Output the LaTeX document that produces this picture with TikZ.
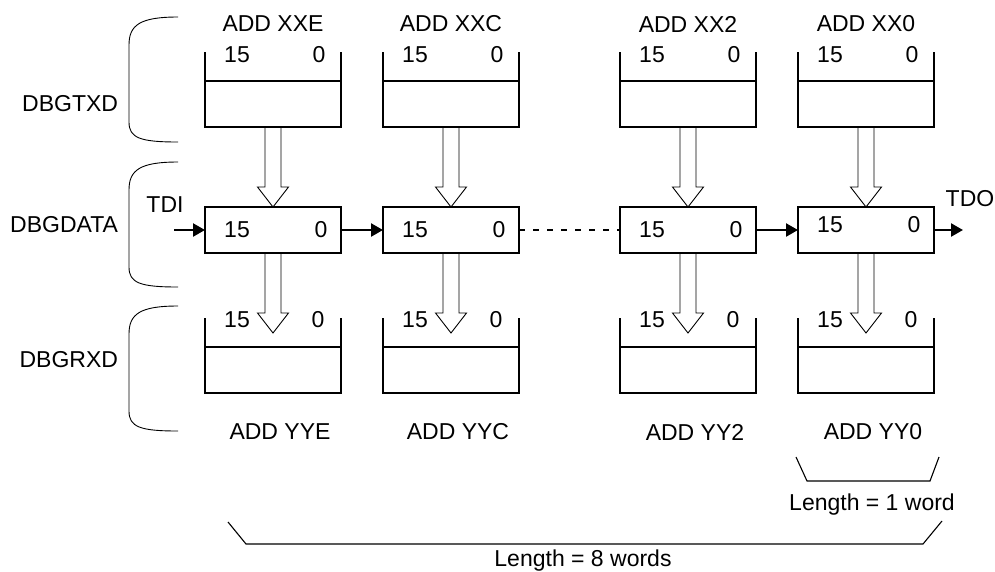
\documentclass[tikz,border=0pt]{standalone}
\usepackage{fontspec}
\setmainfont{Liberation Sans}
\usetikzlibrary{arrows.meta,calc}
\begin{document}
\begin{tikzpicture}[x=1pt,y=-1pt,
  every node/.style={inner sep=0pt,outer sep=0pt,font=\fontsize{23}{27}\selectfont},
  regbox/.style={draw,line width=2.3pt,minimum width=136pt,minimum height=46pt},
  boxline/.style={line width=2.3pt,line cap=rect},
  hollow/.style={draw,line width=0.9pt,line join=miter},
  datalink/.style={line width=2.3pt,-{Triangle[length=12pt,width=13pt]}},
  dotlink/.style={line width=2.3pt,dash pattern=on 6pt off 8pt},
  bracketline/.style={line width=1.1pt},
  braceline/.style={line width=0.9pt}]
\useasboundingbox (0,0) rectangle (995,571);

% group braces and labels
\foreach \t in {17,162,306}{
  \draw[braceline] (178,\t) .. controls (140,\t) and (129,\t+8) .. (129,\t+28)
     -- (129,\t+105) .. controls (129,\t+121) and (140,\t+125) .. (178,\t+125);
}
\node[anchor=east] (ltxd) at (118,104) {DBGTXD};
\node[anchor=east] (ldata) at (118,225) {DBGDATA};
\node[anchor=east] (lrxd) at (118,360) {DBGRXD};

% columns
\foreach \i/\L/\ta/\ba/\dy in {1/205/XXE/YYE/229.5,2/383/XXC/YYC/229.5,3/620/XX2/YY2/229.5,4/798/XX0/YY0/225}{
  \pgfmathsetmacro\R{\L+136}
  \pgfmathsetmacro\C{\L+68}
  \node[regbox] (tx\i) at (\C,104) {};
  \node[regbox] (d\i) at (\C,230) {};
  \node[regbox] (rx\i) at (\C,370) {};
  \draw[boxline] (tx\i.north west) -- ++(0,-28);
  \draw[boxline] (tx\i.north east) -- ++(0,-28);
  \draw[boxline] (rx\i.north west) -- ++(0,-28);
  \draw[boxline] (rx\i.north east) -- ++(0,-28);
  \node (tt\i) at (\C,24) {ADD \ta};
  \node (rt\i) at (\C+7,432) {ADD \ba};
  \node (txa\i) at (\L+32,55) {15};
  \node (txb\i) at (\R-22,55) {0};
  \node (da\i) at (\L+32,\dy) {15};
  \node (db\i) at (\R-20,\dy) {0};
  \node (rxa\i) at (\L+32,320) {15};
  \node (rxb\i) at (\R-23,320) {0};
  % hollow arrow TX -> DATA
  \draw[hollow] ($(tx\i.south)+(-8,0)$) -- ($(d\i.north)+(-8,-20)$) -- ($(d\i.north)+(-15.5,-20)$)
     -- (d\i.north) -- ($(d\i.north)+(15.5,-20)$) -- ($(d\i.north)+(8,-20)$) -- ($(tx\i.south)+(8,0)$);
  % hollow arrow DATA -> RX
  \coordinate (rxtip\i) at ($(rx\i.north)+(0,-14)$);
  \draw[hollow] ($(d\i.south)+(-8,0)$) -- ($(rxtip\i)+(-8,-20)$) -- ($(rxtip\i)+(-15.5,-20)$)
     -- (rxtip\i) -- ($(rxtip\i)+(15.5,-20)$) -- ($(rxtip\i)+(8,-20)$) -- ($(d\i.south)+(8,0)$);
}

% serial chain
\node (tdi) at (165,205) {TDI};
\node (tdo) at (970,199) {TDO};
\coordinate (tdiin) at (174,230);
\coordinate (tdoout) at (963,230);
\draw[datalink] (tdiin) -- (d1.west);
\draw[datalink] (d1.east) -- (d2.west);
\draw[dotlink] (d2.east) -- (d3.west);
\draw[datalink] (d3.east) -- (d4.west);
\draw[datalink] (d4.east) -- (tdoout);

% length brackets
\draw[bracketline] (796,457) -- (807,481) -- (930,481) -- (939,457);
\node[anchor=base] (len1) at (872,510) {Length = 1 word};
\draw[bracketline] (228,522) -- (246,544) -- (923,544) -- (942,521);
\node[anchor=base] (len8) at (583,566) {Length = 8 words};
\end{tikzpicture}
\end{document}
